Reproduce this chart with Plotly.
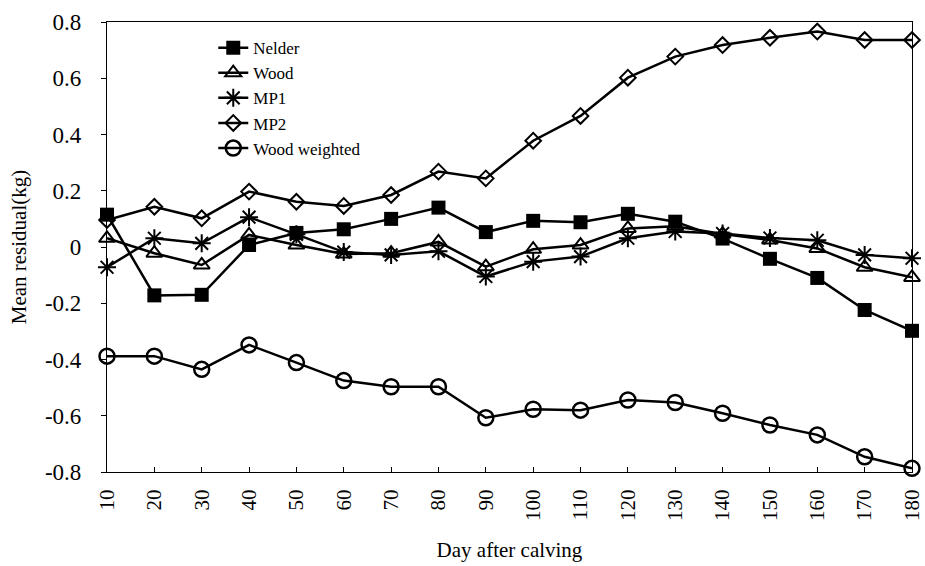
import plotly.graph_objects as go

days = [10, 20, 30, 40, 50, 60, 70, 80, 90, 100, 110, 120, 130, 140, 150, 160, 170, 180]

nelder = [0.115, -0.172, -0.170, 0.007, 0.050, 0.063, 0.100, 0.140, 0.053, 0.093, 0.088, 0.118, 0.090, 0.030, -0.042, -0.110, -0.224, -0.298]
wood = [0.031, -0.022, -0.064, 0.043, 0.007, -0.025, -0.022, 0.018, -0.070, -0.008, 0.007, 0.066, 0.074, 0.046, 0.025, -0.005, -0.072, -0.108]
mp1 = [-0.072, 0.031, 0.013, 0.106, 0.045, -0.018, -0.028, -0.015, -0.105, -0.052, -0.034, 0.031, 0.055, 0.048, 0.032, 0.024, -0.028, -0.040]
mp2 = [0.096, 0.143, 0.102, 0.197, 0.161, 0.146, 0.185, 0.268, 0.244, 0.378, 0.466, 0.602, 0.677, 0.718, 0.744, 0.766, 0.736, 0.736]
wood_weighted = [-0.388, -0.388, -0.435, -0.348, -0.411, -0.475, -0.497, -0.497, -0.607, -0.577, -0.580, -0.544, -0.553, -0.591, -0.633, -0.668, -0.746, -0.787]

y_tickvals = [0.8, 0.6, 0.4, 0.2, 0, -0.2, -0.4, -0.6, -0.8]
y_ticktext = ["0.8", "0.6", "0.4", "0.2", "0", "-0.2", "-0.4", "-0.6", "-0.8"]

series = [
    ("Nelder", nelder, dict(symbol="square", size=14, color="black")),
    ("Wood", wood, dict(symbol="triangle-up-open", size=14, color="black", line=dict(width=2, color="black"))),
    ("MP1", mp1, dict(symbol="asterisk-open", size=15, color="black", line=dict(width=2, color="black"))),
    ("MP2", mp2, dict(symbol="diamond-open", size=12, color="black", line=dict(width=2, color="black"))),
    ("Wood weighted", wood_weighted, dict(symbol="circle-open", size=15, color="black", line=dict(width=2.5, color="black"))),
]

font_family = "Liberation Serif, Times New Roman, serif"

fig = go.Figure()
for name, vals, marker in series:
    fig.add_trace(go.Scatter(
        x=days, y=vals, name=name, mode="lines+markers",
        line=dict(color="black", width=2.5),
        marker=marker,
        cliponaxis=False,
    ))

fig.update_layout(
    width=925, height=566,
    paper_bgcolor="white", plot_bgcolor="white",
    margin=dict(l=107, r=13, t=22, b=94),
    font=dict(family=font_family, color="black", size=20),
    legend=dict(
        x=0.132, y=0.982, xanchor="left", yanchor="top",
        bgcolor="rgba(0,0,0,0)", borderwidth=0,
        font=dict(family=font_family, size=17, color="black"),
        tracegroupgap=0,
    ),
    showlegend=True,
)

fig.update_xaxes(
    range=[10, 180], tickvals=days, ticktext=[str(d) for d in days],
    tickangle=-90, ticks="inside", ticklen=5, tickcolor="black", tickwidth=1,
    ticklabelstandoff=8, ticklabeloverflow="allow", automargin=False,
    showline=True, linecolor="black", linewidth=1.2, mirror=True,
    showgrid=False, zeroline=False,
    tickfont=dict(family=font_family, size=21, color="black"),
    title=dict(text="Day after calving", font=dict(family=font_family, size=21, color="black"), standoff=22),
)
fig.update_yaxes(
    range=[-0.8, 0.8], tickvals=y_tickvals, ticktext=y_ticktext,
    ticks="outside", ticklen=5, tickcolor="black", tickwidth=1,
    ticklabelstandoff=15, ticklabeloverflow="allow", automargin=False,
    showline=True, linecolor="black", linewidth=1.2, mirror=True,
    showgrid=False, zeroline=False,
    tickfont=dict(family=font_family, size=23, color="black"),
    title=dict(text="Mean residual(kg)", font=dict(family=font_family, size=21, color="black"), standoff=12),
)

# remove the default page margin so the 925x566 figure fills the window exactly
fig.write_html(
    "out.html",
    config={"displayModeBar": False},
    post_script="document.body.style.margin='0';document.body.style.overflow='hidden';",
)
